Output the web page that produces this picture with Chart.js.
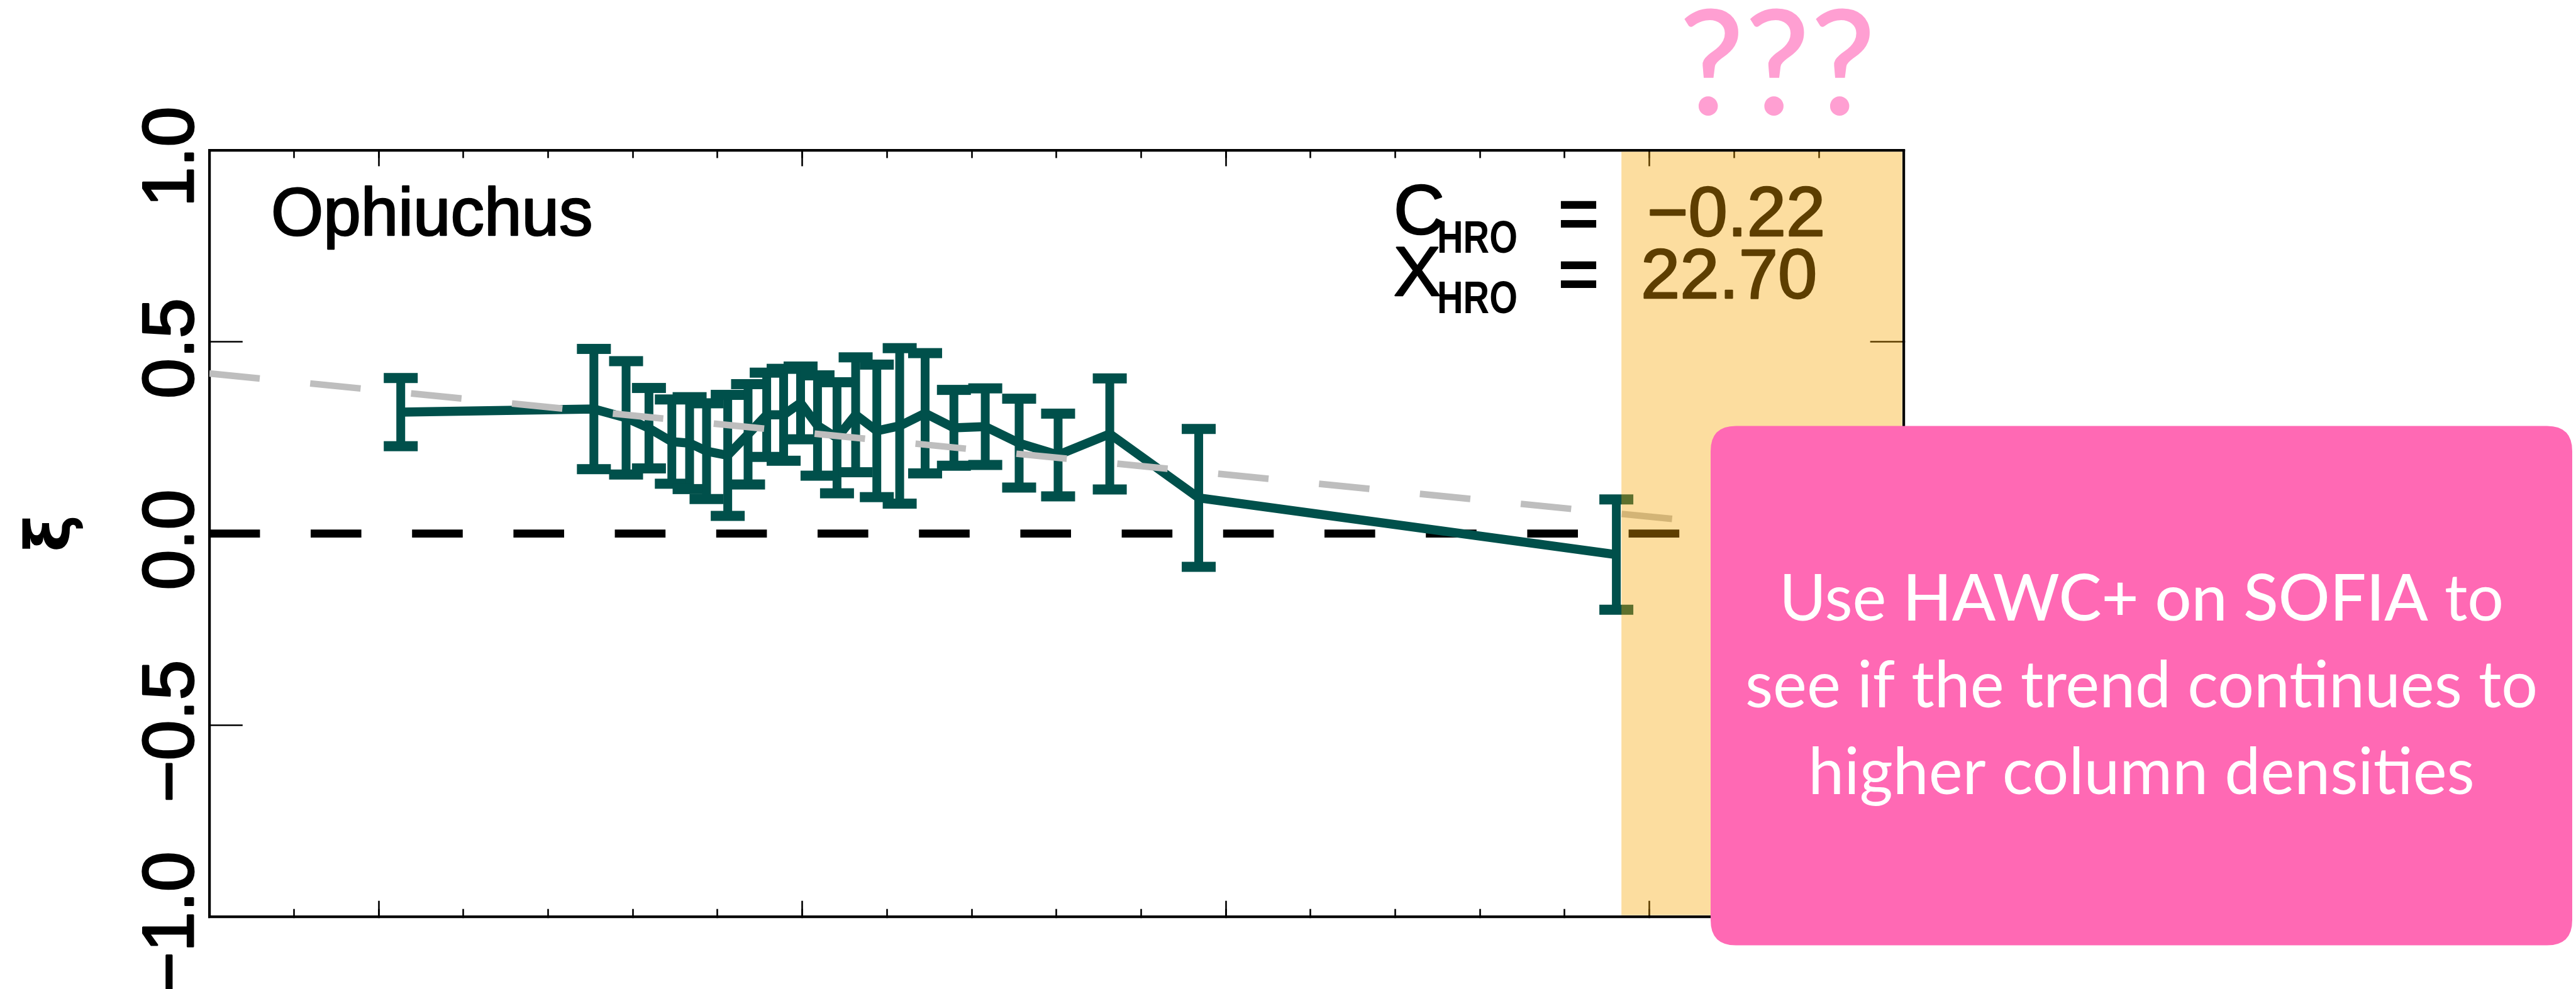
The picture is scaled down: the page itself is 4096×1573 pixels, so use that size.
<!DOCTYPE html>
<html>
<head>
<meta charset="utf-8">
<script src="https://cdn.jsdelivr.net/npm/chart.js@4.4.1/dist/chart.umd.min.js"></script>
<style>
  html, body { margin: 0; padding: 0; background: #ffffff; overflow: hidden; }
  #wrap { position: relative; width: 4096px; height: 1573px; }
</style>
</head>
<body>
<div id="wrap"><canvas id="c"></canvas></div>
<script>
// Column-density bins (log10 N_H) with the HRO shape parameter ξ and its 1σ error
const logN = [21.026, 21.254, 21.292, 21.319, 21.346, 21.367, 21.387, 21.412, 21.436, 21.458,
              21.478, 21.498, 21.518, 21.541, 21.563, 21.588, 21.615, 21.645, 21.679, 21.716,
              21.756, 21.802, 21.863, 21.968, 22.461];
const xi = [0.317, 0.325, 0.302, 0.275, 0.240, 0.236, 0.215, 0.204, 0.259, 0.310,
            0.310, 0.341, 0.282, 0.250, 0.310, 0.268, 0.281, 0.314, 0.276, 0.279,
            0.236, 0.205, 0.260, 0.093, -0.055];
const xiErr = [0.089, 0.157, 0.148, 0.105, 0.110, 0.120, 0.125, 0.158, 0.131, 0.110,
               0.120, 0.095, 0.131, 0.145, 0.150, 0.173, 0.203, 0.157, 0.099, 0.100,
               0.116, 0.108, 0.145, 0.180, 0.144];

// Axis ticks
const xRange = [20.8, 22.8];
const xMajorTicks = [21.0, 21.5, 22.0, 22.5];
const yTickValues = [1.0, 0.5, 0.0, -0.5, -1.0];
const yTickLabels = ['1.0', '0.5', '0.0', '\u22120.5', '\u22121.0'];

// Linear HRO fit: ξ = C_HRO (x - X_HRO)
const cHRO = -0.22;
const xHRO = 22.70;
const fitX = [20.8, 22.58];
const zeroX = [20.8, 22.8];

// High column-density region to be probed
const bandStart = 22.467;

const regionName = 'Ophiuchus';
const calloutLines = [
  [['Use ', 400], ['HAWC+ on SOFIA', 500], [' to', 400]],
  [['see if the trend continues to', 400]],
  [['higher column densities', 400]]
];

const TEAL = '#00504b';

const pts = logN.map((x, i) => ({ x, y: xi[i] }));
const fitPts = fitX.map(x => ({ x, y: cHRO * (x - xHRO) }));
const zeroPts = zeroX.map(x => ({ x, y: 0 }));

function fmt(v) { return (v < 0 ? '\u2212' : '') + Math.abs(v).toFixed(2); }

const errorBars = {
  id: 'errorBars',
  afterDatasetDraw(chart, args) {
    if (args.index !== 1) return;
    const { ctx, scales: { x, y } } = chart;
    ctx.save();
    ctx.fillStyle = TEAL;
    const barW = 14, capW = 54, capH = 16;
    logN.forEach((v, i) => {
      const px = x.getPixelForValue(v);
      const top = y.getPixelForValue(xi[i] + xiErr[i]);
      const bot = y.getPixelForValue(xi[i] - xiErr[i]);
      ctx.fillRect(px - barW / 2, top, barW, bot - top);
      ctx.fillRect(px - capW / 2, top - capH / 2, capW, capH);
      ctx.fillRect(px - capW / 2, bot - capH / 2, capW, capH);
    });
    ctx.restore();
  }
};

function heavyText(ctx, text, x, y, w) {
  ctx.lineWidth = w;
  ctx.lineJoin = 'round';
  ctx.strokeStyle = ctx.fillStyle;
  ctx.strokeText(text, x, y);
  ctx.fillText(text, x, y);
}

const annotations = {
  id: 'annotations',
  afterDatasetsDraw(chart) {
    const { ctx, chartArea, scales: { x } } = chart;
    ctx.save();
    ctx.fillStyle = '#000';
    ctx.textAlign = 'left';
    ctx.textBaseline = 'alphabetic';

    ctx.font = '107px "Liberation Sans", Arial, sans-serif';
    heavyText(ctx, regionName, 431, 374, 2.5);

    // C_HRO and X_HRO
    const big = '112px "Liberation Sans", Arial, sans-serif';
    const sub = 'bold 72px "Liberation Sans", Arial, sans-serif';
    const rows = [
      { sym: 'C', base: 372, subBase: 402, eqBase: 378, val: fmt(cHRO), valX: 2619, valBase: 375 },
      { sym: 'X', base: 470, subBase: 498, eqBase: 474, val: xHRO.toFixed(2), valX: 2609, valBase: 474 }
    ];
    rows.forEach(r => {
      ctx.font = big;
      heavyText(ctx, r.sym, 2216, r.base, 2.5);
      ctx.save();
      ctx.font = sub;
      ctx.translate(2285, r.subBase);
      ctx.scale(0.8, 1);
      ctx.fillText('HRO', 0, 0);
      ctx.restore();
      ctx.font = 'bold 112px "Liberation Sans", Arial, sans-serif';
      ctx.textAlign = 'center';
      ctx.fillText('=', 2510, r.eqBase);
      ctx.textAlign = 'left';
      ctx.font = big;
      heavyText(ctx, r.val, r.valX, r.valBase, 2.5);
    });

    // translucent band over the high-density end of the plot
    const bx = x.getPixelForValue(bandStart);
    ctx.fillStyle = 'rgba(248,166,0,0.375)';
    ctx.fillRect(bx, chartArea.top + 2, chartArea.right - 2 - bx, chartArea.bottom - chartArea.top - 4);
    ctx.restore();
  }
};

const overlay = {
  id: 'overlay',
  afterDraw(chart) {
    const { ctx, scales: { y } } = chart;
    ctx.save();
    // rotated y tick labels
    ctx.fillStyle = '#000';
    ctx.font = '115px "Liberation Sans", Arial, sans-serif';
    ctx.textAlign = 'center';
    ctx.textBaseline = 'alphabetic';
    yTickValues.forEach((v, i) => {
      const py = y.getPixelForValue(v);
      ctx.save();
      ctx.translate(307, py + 10);
      ctx.rotate(-Math.PI / 2);
      heavyText(ctx, yTickLabels[i], 0, 0, 3);
      ctx.restore();
    });

    // question marks
    ctx.fillStyle = '#ff9fd2';
    ctx.font = '500 232px Lato, sans-serif';
    ctx.textAlign = 'center';
    ctx.fillText('???', 2826, 182);

    // call-out box
    const bx = 2720, by = 677.5, bw = 1370, bh = 826, r = 40;
    ctx.fillStyle = '#ff69b4';
    ctx.beginPath();
    ctx.moveTo(bx + r, by);
    ctx.lineTo(bx + bw - r, by);
    ctx.quadraticCurveTo(bx + bw, by, bx + bw, by + r);
    ctx.lineTo(bx + bw, by + bh - r);
    ctx.quadraticCurveTo(bx + bw, by + bh, bx + bw - r, by + bh);
    ctx.lineTo(bx + r, by + bh);
    ctx.quadraticCurveTo(bx, by + bh, bx, by + bh - r);
    ctx.lineTo(bx, by + r);
    ctx.quadraticCurveTo(bx, by, bx + r, by);
    ctx.closePath();
    ctx.fill();

    ctx.fillStyle = '#ffffff';
    ctx.textAlign = 'left';
    const cx = bx + bw / 2;
    const bases = [987, 1125, 1263];
    calloutLines.forEach((parts, li) => {
      let total = 0;
      const widths = parts.map(([t, w]) => {
        ctx.font = w + ' 102px Lato, sans-serif';
        const m = ctx.measureText(t).width;
        total += m;
        return m;
      });
      let xx = cx - total / 2;
      parts.forEach(([t, w], k) => {
        ctx.font = w + ' 102px Lato, sans-serif';
        ctx.fillText(t, xx, bases[li]);
        xx += widths[k];
      });
    });
    ctx.restore();
  }
};

const frameGrid = (len) => ({
  drawOnChartArea: false, drawTicks: true, tickLength: len,
  tickWidth: 2.6, tickColor: '#000'
});
const border = { display: true, width: 4.2, color: '#000' };
const noBorder = { display: false };
const setMajor = s => { s.ticks = xMajorTicks.map(v => ({ value: v })); };

new Chart(document.getElementById('c'), {
  type: 'line',
  data: {
    datasets: [
      { data: zeroPts, borderColor: '#000', borderWidth: 12.7, borderDash: [80.6, 80.6],
        pointRadius: 0, order: 3 },
      { data: pts, borderColor: TEAL, borderWidth: 14.4, pointRadius: 0, order: 2 },
      { data: fitPts, borderColor: '#bebebe', borderWidth: 10.5, borderDash: [80.6, 80.6],
        pointRadius: 0, order: 1 }
    ]
  },
  options: {
    responsive: true,
    maintainAspectRatio: false,
    devicePixelRatio: 1,
    animation: false,
    layout: { padding: { left: 0, top: 239.4, right: 1069.3, bottom: 115.3 } },
    plugins: { legend: { display: false }, tooltip: { enabled: false } },
    scales: {
      x: {
        type: 'linear', position: 'bottom', min: xRange[0], max: xRange[1],
        ticks: { display: false, stepSize: 0.1, maxTicksLimit: 1000 },
        grid: frameGrid(-12), border,
        afterFit: s => { s.height = 0; }
      },
      xMajor: {
        type: 'linear', position: 'bottom', min: xRange[0], max: xRange[1],
        ticks: { display: false },
        afterBuildTicks: setMajor,
        grid: frameGrid(-25), border: noBorder,
        afterFit: s => { s.height = 0; }
      },
      xTop: {
        type: 'linear', position: 'top', min: xRange[0], max: xRange[1],
        ticks: { display: false, stepSize: 0.1, maxTicksLimit: 1000 },
        grid: frameGrid(-12), border,
        afterFit: s => { s.height = 0; }
      },
      xTopMajor: {
        type: 'linear', position: 'top', min: xRange[0], max: xRange[1],
        ticks: { display: false },
        afterBuildTicks: setMajor,
        grid: frameGrid(-25), border: noBorder,
        afterFit: s => { s.height = 0; }
      },
      y: {
        type: 'linear', position: 'left', min: -1, max: 1,
        ticks: { display: false, stepSize: 0.5, includeBounds: false },
        grid: frameGrid(-53), border,
        title: { display: true, text: '\u03be', color: '#000',
                 font: { family: '"DejaVu Sans", sans-serif', size: 100, weight: 'bold' },
                 padding: { top: 25, bottom: 0 } },
        afterFit: s => { s.width = 332.8; }
      },
      yRight: {
        type: 'linear', position: 'right', min: -1, max: 1,
        ticks: { display: false, stepSize: 0.5, includeBounds: false },
        grid: frameGrid(-53), border,
        afterFit: s => { s.width = 0; }
      }
    }
  },
  plugins: [errorBars, annotations, overlay]
});
</script>
</body>
</html>
